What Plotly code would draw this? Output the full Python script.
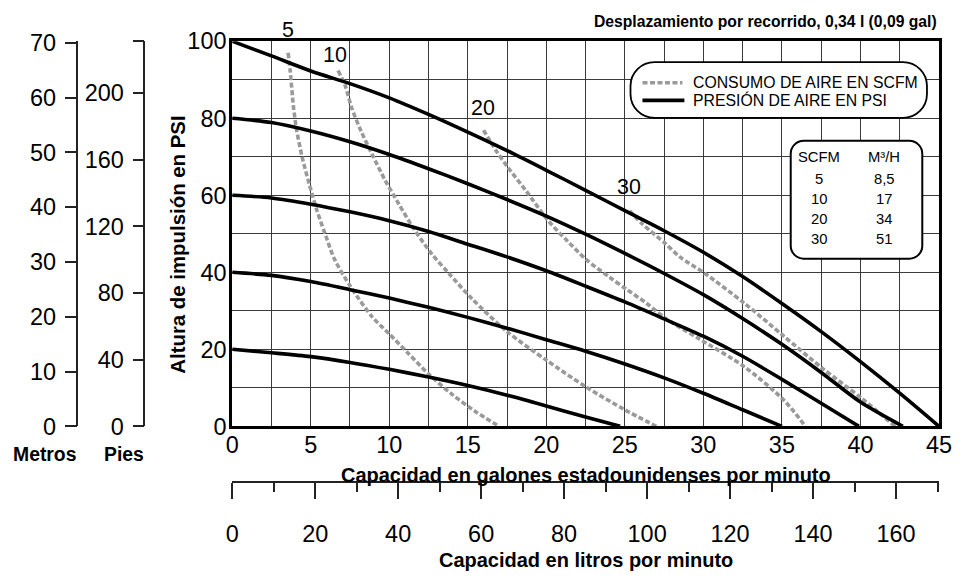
import plotly.graph_objects as go

W, H = 965, 582

# ---------------- data ----------------
gpm_range = [0, 45]
psi_range = [0, 100]
x_ticks = [0, 5, 10, 15, 20, 25, 30, 35, 40, 45]
y_ticks = [0, 20, 40, 60, 80, 100]
lpm_ticks = [0, 20, 40, 60, 80, 100, 120, 140, 160]
m_ticks = [0, 10, 20, 30, 40, 50, 60, 70]
ft_ticks = [0, 40, 80, 120, 160, 200]

# air pressure curves (x = US gpm, y = psi head)
p100_x = [0, 2.5, 5, 7.5, 10, 12.5, 15, 17.5, 20, 22.5, 25, 27.5, 30, 32.5, 35, 37.5, 40, 42.5, 45]
p100_y = [100, 96.2, 92.3, 89.0, 85.3, 81.0, 76.4, 71.6, 66.5, 61.3, 56.0, 50.8, 45.2, 38.9, 31.9, 24.6, 16.8, 8.6, 0]
p80_x = [0, 2.5, 5, 7.5, 10, 12.5, 15, 17.5, 20, 22.5, 25, 27.5, 30, 32.5, 35, 37.5, 40, 42.7]
p80_y = [80, 78.9, 76.7, 73.9, 70.6, 66.9, 63.0, 58.9, 54.6, 49.9, 44.9, 39.7, 34.2, 28.0, 21.3, 14.0, 6.3, 0]
p60_x = [0, 2.5, 5, 7.5, 10, 12.5, 15, 17.5, 20, 22.5, 25, 27.5, 30, 32.5, 35, 37.5, 39.9]
p60_y = [60, 59.3, 57.7, 55.7, 53.4, 50.6, 47.3, 44.0, 40.4, 36.4, 32.3, 27.9, 23.4, 18.2, 12.2, 6.0, 0]
p40_x = [0, 2.5, 5, 7.5, 10, 12.5, 15, 17.5, 20, 22.5, 25, 27.5, 30, 32.5, 35]
p40_y = [40, 39.2, 37.6, 35.5, 33.3, 30.9, 28.3, 25.5, 22.5, 19.5, 16.2, 12.6, 8.6, 4.3, 0]
p20_x = [0, 2.5, 5, 7.5, 10, 12.5, 15, 17.5, 20, 22.5, 24.7]
p20_y = [20, 19.1, 18.1, 16.6, 14.8, 12.8, 10.6, 8.1, 5.3, 2.4, 0]

# air consumption curves (SCFM)
s5_x = [3.56, 3.7, 3.9, 4.1, 4.45, 4.9, 5.4, 6.0, 6.5, 7.5, 8.9, 10, 11.2, 12.5, 14, 15.5, 17]
s5_y = [97, 92, 83, 77, 70, 63, 56, 49, 43.5, 36.5, 28.5, 24, 19, 13.6, 8.3, 3.8, 0]
s10_x = [6.74, 7.2, 7.6, 8.2, 8.9, 9.75, 10.6, 11.5, 12.7, 13.8, 15.25, 17.5, 20, 22.5, 25, 27]
s10_y = [92.4, 88.4, 82.8, 76.7, 70.7, 63.8, 57.8, 51.7, 44.8, 39.7, 33.2, 24.6, 17.2, 10.3, 4.3, 0]
s20_x = [16.0, 16.8, 17.56, 18.7, 20.1, 21.3, 22.6, 24.0, 25.1, 26.4, 27.6, 29.7, 32.6, 35.1, 36.5]
s20_y = [76.9, 71.6, 67.2, 61.2, 53.5, 48.3, 43.1, 38.8, 35.6, 31.9, 28.0, 22.8, 15.5, 6.9, 0]
s30_x = [25.3, 26.1, 27.6, 28.5, 30.1, 32.6, 35.1, 37.6, 40.1, 42.2]
s30_y = [56, 52.6, 47.4, 44, 39.7, 32, 23.5, 15, 7.2, 0]

scfm_labels = ["5", "10", "20", "30"]

table_scfm = ["5", "10", "20", "30"]
table_m3h = ["8,5", "17", "34", "51"]

GAL_TO_L = 3.78541
PSI_TO_FT = 2.31
PSI_TO_M = 0.703

# ---------------- placement helpers (photo calibration) ----------------
AX, SX = 6.4, 0.981
AY, SY = 11.6, 0.9594
FS = 1.02  # font scale to compensate photo shrink


def fx(px):
    return ((px - AX) / SX) / W


def fy(py):
    return 1 - ((py - AY) / SY) / H


def rrect(x0, y0, x1, y1, r):
    k = 0.5523 * r
    pts = [
        ("M", [(x0 + r, y0)]),
        ("L", [(x1 - r, y0)]),
        ("C", [(x1 - r + k, y0), (x1, y0 + r - k), (x1, y0 + r)]),
        ("L", [(x1, y1 - r)]),
        ("C", [(x1, y1 - r + k), (x1 - r + k, y1), (x1 - r, y1)]),
        ("L", [(x0 + r, y1)]),
        ("C", [(x0 + r - k, y1), (x0, y1 - r + k), (x0, y1 - r)]),
        ("L", [(x0, y0 + r)]),
        ("C", [(x0, y0 + r - k), (x0 + r - k, y0), (x0 + r, y0)]),
    ]
    s = ""
    for cmd, pp in pts:
        s += cmd + " " + " ".join(f"{fx(a):.5f},{fy(b):.5f}" for a, b in pp) + " "
    return s + "Z"


X0, X1 = 232, 940
Y0, Y1 = 426.7, 40

REG = "Liberation Sans, Arial, sans-serif"

fig = go.Figure()

black = dict(color="black", width=3.6)
gray = dict(color="#9a9a9a", width=3.6, dash="5px,2.5px")

for xs, ys in [(s5_x, s5_y), (s10_x, s10_y), (s20_x, s20_y), (s30_x, s30_y)]:
    fig.add_trace(go.Scatter(x=xs, y=ys, mode="lines", line=dict(**gray, shape="spline", smoothing=0.8),
                             hoverinfo="skip", showlegend=False))
for xs, ys in [(p100_x, p100_y), (p80_x, p80_y), (p60_x, p60_y), (p40_x, p40_y), (p20_x, p20_y)]:
    fig.add_trace(go.Scatter(x=xs, y=ys, mode="lines", line=dict(**black, shape="spline", smoothing=0.8),
                             hoverinfo="skip", showlegend=False))

# helper traces for secondary axes
fig.add_trace(go.Scatter(x=[0, gpm_range[1] * GAL_TO_L], y=[0, 0], xaxis="x2", yaxis="y",
                         mode="none", hoverinfo="skip", showlegend=False))
fig.add_trace(go.Scatter(x=[0, 0], y=[0, 100 * PSI_TO_M], xaxis="x", yaxis="y2",
                         mode="none", hoverinfo="skip", showlegend=False))
fig.add_trace(go.Scatter(x=[0, 0], y=[0, 100 * PSI_TO_FT], xaxis="x", yaxis="y3",
                         mode="none", hoverinfo="skip", showlegend=False))

tickfont = dict(family=REG, size=23 * FS, color="black")
grid_col = "#3a3a3a"

fig.update_layout(
    width=W, height=H, autosize=False,
    margin=dict(l=0, r=0, t=0, b=0),
    plot_bgcolor="white", paper_bgcolor="white",
    showlegend=False,
    xaxis=dict(domain=[fx(X0), fx(X1)], range=gpm_range, tickvals=x_ticks,
               showgrid=True, gridcolor=grid_col, gridwidth=1,
               minor=dict(dtick=2.5, tick0=0, showgrid=True, gridcolor=grid_col, gridwidth=1),
               showline=True, linecolor="black", linewidth=3, mirror=True,
               zeroline=False, ticks="", tickfont=tickfont, ticklabelstandoff=-4),
    yaxis=dict(domain=[fy(Y0), fy(Y1)], range=psi_range, tickvals=y_ticks,
               showgrid=True, gridcolor=grid_col, gridwidth=1,
               minor=dict(dtick=10, tick0=0, showgrid=True, gridcolor=grid_col, gridwidth=1),
               showline=True, linecolor="black", linewidth=3, mirror=True,
               zeroline=False, ticks="", tickfont=tickfont, ticklabelstandoff=-2),
    xaxis2=dict(overlaying="x", anchor="free", position=fy(483), side="bottom",
                domain=[fx(X0), fx(X1)], range=[0, gpm_range[1] * GAL_TO_L],
                tickvals=lpm_ticks, ticks="outside", ticklen=16, tickwidth=1.5, tickcolor="#222",
                minor=dict(dtick=10, tick0=0, ticks="outside", ticklen=9, tickwidth=1.5, tickcolor="#222"),
                showline=True, linecolor="#222", linewidth=1.5, showgrid=False, zeroline=False,
                tickfont=tickfont, ticklabelstandoff=15),
    yaxis2=dict(overlaying="y", anchor="free", position=fx(77), side="left",
                domain=[fy(Y0), fy(Y1)], range=[0, 100 * PSI_TO_M], tickvals=m_ticks,
                ticks="outside", ticklen=12, tickwidth=1.5, tickcolor="#222",
                showline=True, linecolor="#222", linewidth=1.5, showgrid=False, zeroline=False,
                tickfont=tickfont, ticklabelstandoff=4),
    yaxis3=dict(overlaying="y", anchor="free", position=fx(144), side="left",
                domain=[fy(Y0), fy(Y1)], range=[0, 100 * PSI_TO_FT],
                tickvals=ft_ticks + [100 * PSI_TO_FT], ticktext=[str(v) for v in ft_ticks] + [""],
                ticks="outside", ticklen=11, tickwidth=1.5, tickcolor="#222",
                showline=True, linecolor="#222", linewidth=1.5, showgrid=False, zeroline=False,
                tickfont=tickfont, ticklabelstandoff=4),
)

shapes = []
# legend box
shapes.append(dict(type="path", xref="paper", yref="paper", path=rrect(631, 61, 928, 117, 24),
                   line=dict(color="black", width=1.8), fillcolor="white", layer="above"))
shapes.append(dict(type="line", xref="paper", yref="paper", x0=fx(643), x1=fx(683), y0=fy(81.7), y1=fy(81.7),
                   line=dict(color="#9a9a9a", width=3.6, dash="5px,2.5px"), layer="above"))
shapes.append(dict(type="line", xref="paper", yref="paper", x0=fx(643), x1=fx(685), y0=fy(99.3), y1=fy(99.3),
                   line=dict(color="black", width=3.6), layer="above"))
# table box
shapes.append(dict(type="path", xref="paper", yref="paper", path=rrect(791.5, 140, 923.3, 258.3, 13),
                   line=dict(color="black", width=2), fillcolor="white", layer="above"))
fig.update_layout(shapes=shapes)

ann = []
label_pos = [(288.3, 28.3), (335, 53.3), (483.3, 107.3), (629.3, 186.7)]
for t, (lx, ly) in zip(scfm_labels, label_pos):
    ann.append(dict(x=fx(lx), y=fy(ly), xref="paper", yref="paper", text=t, showarrow=False,
                    font=dict(family=REG, size=21 * FS, color="black"), xanchor="center", yanchor="middle"))

legfont = dict(family=REG, size=15.5 * FS, color="black")
ann.append(dict(x=fx(691.7), y=fy(81.7), xref="paper", yref="paper", text="CONSUMO DE AIRE EN SCFM",
                showarrow=False, font=legfont, xanchor="left", yanchor="middle"))
ann.append(dict(x=fx(691.7), y=fy(99.3), xref="paper", yref="paper", text="PRESIÓN DE AIRE EN PSI",
                showarrow=False, font=legfont, xanchor="left", yanchor="middle"))

tabfont = dict(family=REG, size=14.5 * FS, color="black")
ann.append(dict(x=fx(820), y=fy(156.7), xref="paper", yref="paper", text="SCFM", showarrow=False,
                font=tabfont, xanchor="center", yanchor="middle"))
ann.append(dict(x=fx(885), y=fy(156.7), xref="paper", yref="paper", text="M³/H", showarrow=False,
                font=tabfont, xanchor="center", yanchor="middle"))
row_y = [178.3, 198.3, 218.3, 238.3]
for a, b, ry in zip(table_scfm, table_m3h, row_y):
    ann.append(dict(x=fx(820), y=fy(ry), xref="paper", yref="paper", text=a, showarrow=False,
                    font=tabfont, xanchor="center", yanchor="middle"))
    ann.append(dict(x=fx(885), y=fy(ry), xref="paper", yref="paper", text=b, showarrow=False,
                    font=tabfont, xanchor="center", yanchor="middle"))

bold = lambda s: dict(family=REG, size=s * FS, color="black")
ann.append(dict(x=fx(940), y=fy(20), xref="paper", yref="paper",
                text="<b>Desplazamiento por recorrido, 0,34 l (0,09 gal)</b>", showarrow=False,
                font=bold(15.4), xanchor="right", yanchor="middle"))
ann.append(dict(x=fx(586), y=fy(476), xref="paper", yref="paper",
                text="<b>Capacidad en galones estadounidenses por minuto</b>", showarrow=False,
                font=bold(19.6), xanchor="center", yanchor="middle"))
ann.append(dict(x=fx(586), y=fy(561), xref="paper", yref="paper",
                text="<b>Capacidad en litros por minuto</b>", showarrow=False,
                font=bold(19.6), xanchor="center", yanchor="middle"))
ann.append(dict(x=fx(178), y=fy(244), xref="paper", yref="paper",
                text="<b>Altura de impulsión en PSI</b>", showarrow=False, textangle=-90,
                font=bold(20), xanchor="center", yanchor="middle"))
ann.append(dict(x=fx(44), y=fy(454), xref="paper", yref="paper", text="<b>Metros</b>", showarrow=False,
                font=bold(19), xanchor="center", yanchor="middle"))
ann.append(dict(x=fx(124), y=fy(454), xref="paper", yref="paper", text="<b>Pies</b>", showarrow=False,
                font=bold(19), xanchor="center", yanchor="middle"))
fig.update_layout(annotations=ann)

post = ("document.documentElement.style.margin='0';document.body.style.margin='0';"
        "document.documentElement.style.overflow='hidden';document.body.style.overflow='hidden';"
        "var gd=document.getElementById('{plot_id}');"
        "gd.style.position='fixed';gd.style.left='0px';gd.style.top='0px';")

fig.write_html("out.html", post_script=post, config={"displayModeBar": False})
